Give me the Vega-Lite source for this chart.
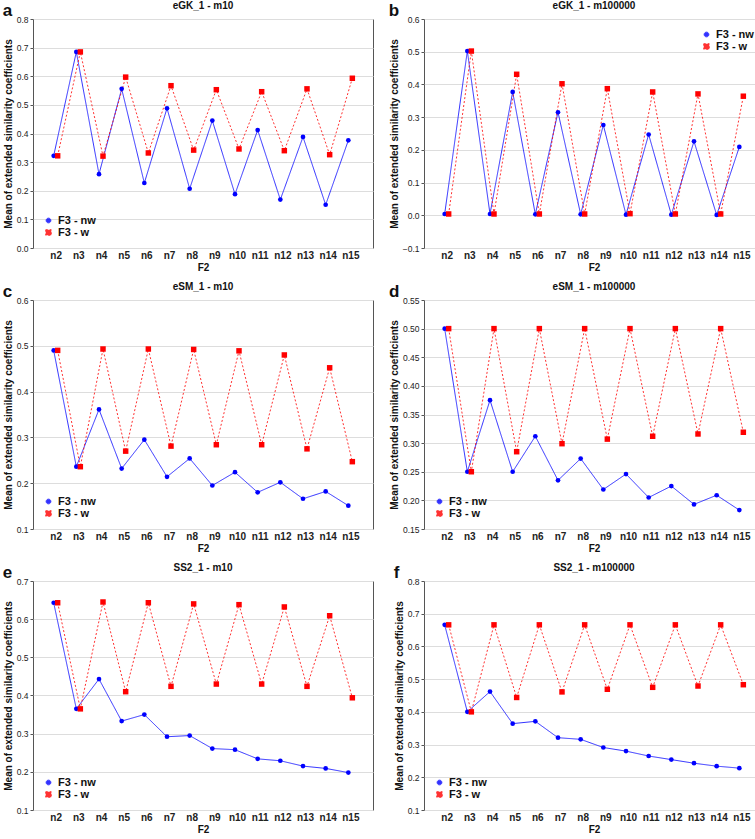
{
  "$schema": "https://vega.github.io/schema/vega-lite/v6.json",
  "padding": {"left": 2, "top": 0, "right": 0, "bottom": 0},
  "background": "white",
  "datasets": {
    "d": [
      {"panel":"a","F2":"n2","F3":"F3 - nw","value":0.322},{"panel":"a","F2":"n3","F3":"F3 - nw","value":0.685},{"panel":"a","F2":"n4","F3":"F3 - nw","value":0.258},{"panel":"a","F2":"n5","F3":"F3 - nw","value":0.556},{"panel":"a","F2":"n6","F3":"F3 - nw","value":0.227},{"panel":"a","F2":"n7","F3":"F3 - nw","value":0.488},{"panel":"a","F2":"n8","F3":"F3 - nw","value":0.207},{"panel":"a","F2":"n9","F3":"F3 - nw","value":0.445},{"panel":"a","F2":"n10","F3":"F3 - nw","value":0.188},{"panel":"a","F2":"n11","F3":"F3 - nw","value":0.412},{"panel":"a","F2":"n12","F3":"F3 - nw","value":0.169},{"panel":"a","F2":"n13","F3":"F3 - nw","value":0.388},{"panel":"a","F2":"n14","F3":"F3 - nw","value":0.151},{"panel":"a","F2":"n15","F3":"F3 - nw","value":0.376},
      {"panel":"a","F2":"n2","F3":"F3 - w","value":0.322},{"panel":"a","F2":"n3","F3":"F3 - w","value":0.685},{"panel":"a","F2":"n4","F3":"F3 - w","value":0.321},{"panel":"a","F2":"n5","F3":"F3 - w","value":0.597},{"panel":"a","F2":"n6","F3":"F3 - w","value":0.332},{"panel":"a","F2":"n7","F3":"F3 - w","value":0.567},{"panel":"a","F2":"n8","F3":"F3 - w","value":0.342},{"panel":"a","F2":"n9","F3":"F3 - w","value":0.553},{"panel":"a","F2":"n10","F3":"F3 - w","value":0.346},{"panel":"a","F2":"n11","F3":"F3 - w","value":0.546},{"panel":"a","F2":"n12","F3":"F3 - w","value":0.340},{"panel":"a","F2":"n13","F3":"F3 - w","value":0.556},{"panel":"a","F2":"n14","F3":"F3 - w","value":0.326},{"panel":"a","F2":"n15","F3":"F3 - w","value":0.593},
      {"panel":"b","F2":"n2","F3":"F3 - nw","value":0.004},{"panel":"b","F2":"n3","F3":"F3 - nw","value":0.502},{"panel":"b","F2":"n4","F3":"F3 - nw","value":0.004},{"panel":"b","F2":"n5","F3":"F3 - nw","value":0.377},{"panel":"b","F2":"n6","F3":"F3 - nw","value":0.003},{"panel":"b","F2":"n7","F3":"F3 - nw","value":0.315},{"panel":"b","F2":"n8","F3":"F3 - nw","value":0.003},{"panel":"b","F2":"n9","F3":"F3 - nw","value":0.276},{"panel":"b","F2":"n10","F3":"F3 - nw","value":0.002},{"panel":"b","F2":"n11","F3":"F3 - nw","value":0.247},{"panel":"b","F2":"n12","F3":"F3 - nw","value":0.002},{"panel":"b","F2":"n13","F3":"F3 - nw","value":0.226},{"panel":"b","F2":"n14","F3":"F3 - nw","value":0.001},{"panel":"b","F2":"n15","F3":"F3 - nw","value":0.209},
      {"panel":"b","F2":"n2","F3":"F3 - w","value":0.004},{"panel":"b","F2":"n3","F3":"F3 - w","value":0.502},{"panel":"b","F2":"n4","F3":"F3 - w","value":0.004},{"panel":"b","F2":"n5","F3":"F3 - w","value":0.431},{"panel":"b","F2":"n6","F3":"F3 - w","value":0.004},{"panel":"b","F2":"n7","F3":"F3 - w","value":0.402},{"panel":"b","F2":"n8","F3":"F3 - w","value":0.004},{"panel":"b","F2":"n9","F3":"F3 - w","value":0.387},{"panel":"b","F2":"n10","F3":"F3 - w","value":0.005},{"panel":"b","F2":"n11","F3":"F3 - w","value":0.377},{"panel":"b","F2":"n12","F3":"F3 - w","value":0.004},{"panel":"b","F2":"n13","F3":"F3 - w","value":0.371},{"panel":"b","F2":"n14","F3":"F3 - w","value":0.004},{"panel":"b","F2":"n15","F3":"F3 - w","value":0.364},
      {"panel":"c","F2":"n2","F3":"F3 - nw","value":0.490},{"panel":"c","F2":"n3","F3":"F3 - nw","value":0.236},{"panel":"c","F2":"n4","F3":"F3 - nw","value":0.361},{"panel":"c","F2":"n5","F3":"F3 - nw","value":0.232},{"panel":"c","F2":"n6","F3":"F3 - nw","value":0.295},{"panel":"c","F2":"n7","F3":"F3 - nw","value":0.214},{"panel":"c","F2":"n8","F3":"F3 - nw","value":0.254},{"panel":"c","F2":"n9","F3":"F3 - nw","value":0.195},{"panel":"c","F2":"n10","F3":"F3 - nw","value":0.224},{"panel":"c","F2":"n11","F3":"F3 - nw","value":0.180},{"panel":"c","F2":"n12","F3":"F3 - nw","value":0.202},{"panel":"c","F2":"n13","F3":"F3 - nw","value":0.166},{"panel":"c","F2":"n14","F3":"F3 - nw","value":0.182},{"panel":"c","F2":"n15","F3":"F3 - nw","value":0.151},
      {"panel":"c","F2":"n2","F3":"F3 - w","value":0.490},{"panel":"c","F2":"n3","F3":"F3 - w","value":0.236},{"panel":"c","F2":"n4","F3":"F3 - w","value":0.493},{"panel":"c","F2":"n5","F3":"F3 - w","value":0.270},{"panel":"c","F2":"n6","F3":"F3 - w","value":0.493},{"panel":"c","F2":"n7","F3":"F3 - w","value":0.281},{"panel":"c","F2":"n8","F3":"F3 - w","value":0.492},{"panel":"c","F2":"n9","F3":"F3 - w","value":0.284},{"panel":"c","F2":"n10","F3":"F3 - w","value":0.489},{"panel":"c","F2":"n11","F3":"F3 - w","value":0.284},{"panel":"c","F2":"n12","F3":"F3 - w","value":0.480},{"panel":"c","F2":"n13","F3":"F3 - w","value":0.275},{"panel":"c","F2":"n14","F3":"F3 - w","value":0.452},{"panel":"c","F2":"n15","F3":"F3 - w","value":0.247},
      {"panel":"d","F2":"n2","F3":"F3 - nw","value":0.500},{"panel":"d","F2":"n3","F3":"F3 - nw","value":0.250},{"panel":"d","F2":"n4","F3":"F3 - nw","value":0.375},{"panel":"d","F2":"n5","F3":"F3 - nw","value":0.250},{"panel":"d","F2":"n6","F3":"F3 - nw","value":0.312},{"panel":"d","F2":"n7","F3":"F3 - nw","value":0.235},{"panel":"d","F2":"n8","F3":"F3 - nw","value":0.273},{"panel":"d","F2":"n9","F3":"F3 - nw","value":0.219},{"panel":"d","F2":"n10","F3":"F3 - nw","value":0.246},{"panel":"d","F2":"n11","F3":"F3 - nw","value":0.205},{"panel":"d","F2":"n12","F3":"F3 - nw","value":0.225},{"panel":"d","F2":"n13","F3":"F3 - nw","value":0.193},{"panel":"d","F2":"n14","F3":"F3 - nw","value":0.209},{"panel":"d","F2":"n15","F3":"F3 - nw","value":0.183},
      {"panel":"d","F2":"n2","F3":"F3 - w","value":0.500},{"panel":"d","F2":"n3","F3":"F3 - w","value":0.250},{"panel":"d","F2":"n4","F3":"F3 - w","value":0.500},{"panel":"d","F2":"n5","F3":"F3 - w","value":0.285},{"panel":"d","F2":"n6","F3":"F3 - w","value":0.500},{"panel":"d","F2":"n7","F3":"F3 - w","value":0.299},{"panel":"d","F2":"n8","F3":"F3 - w","value":0.500},{"panel":"d","F2":"n9","F3":"F3 - w","value":0.307},{"panel":"d","F2":"n10","F3":"F3 - w","value":0.500},{"panel":"d","F2":"n11","F3":"F3 - w","value":0.312},{"panel":"d","F2":"n12","F3":"F3 - w","value":0.500},{"panel":"d","F2":"n13","F3":"F3 - w","value":0.316},{"panel":"d","F2":"n14","F3":"F3 - w","value":0.500},{"panel":"d","F2":"n15","F3":"F3 - w","value":0.319},
      {"panel":"e","F2":"n2","F3":"F3 - nw","value":0.643},{"panel":"e","F2":"n3","F3":"F3 - nw","value":0.365},{"panel":"e","F2":"n4","F3":"F3 - nw","value":0.443},{"panel":"e","F2":"n5","F3":"F3 - nw","value":0.333},{"panel":"e","F2":"n6","F3":"F3 - nw","value":0.350},{"panel":"e","F2":"n7","F3":"F3 - nw","value":0.292},{"panel":"e","F2":"n8","F3":"F3 - nw","value":0.295},{"panel":"e","F2":"n9","F3":"F3 - nw","value":0.261},{"panel":"e","F2":"n10","F3":"F3 - nw","value":0.258},{"panel":"e","F2":"n11","F3":"F3 - nw","value":0.234},{"panel":"e","F2":"n12","F3":"F3 - nw","value":0.229},{"panel":"e","F2":"n13","F3":"F3 - nw","value":0.215},{"panel":"e","F2":"n14","F3":"F3 - nw","value":0.209},{"panel":"e","F2":"n15","F3":"F3 - nw","value":0.198},
      {"panel":"e","F2":"n2","F3":"F3 - w","value":0.643},{"panel":"e","F2":"n3","F3":"F3 - w","value":0.365},{"panel":"e","F2":"n4","F3":"F3 - w","value":0.645},{"panel":"e","F2":"n5","F3":"F3 - w","value":0.410},{"panel":"e","F2":"n6","F3":"F3 - w","value":0.643},{"panel":"e","F2":"n7","F3":"F3 - w","value":0.424},{"panel":"e","F2":"n8","F3":"F3 - w","value":0.640},{"panel":"e","F2":"n9","F3":"F3 - w","value":0.430},{"panel":"e","F2":"n10","F3":"F3 - w","value":0.638},{"panel":"e","F2":"n11","F3":"F3 - w","value":0.430},{"panel":"e","F2":"n12","F3":"F3 - w","value":0.632},{"panel":"e","F2":"n13","F3":"F3 - w","value":0.424},{"panel":"e","F2":"n14","F3":"F3 - w","value":0.609},{"panel":"e","F2":"n15","F3":"F3 - w","value":0.394},
      {"panel":"f","F2":"n2","F3":"F3 - nw","value":0.666},{"panel":"f","F2":"n3","F3":"F3 - nw","value":0.400},{"panel":"f","F2":"n4","F3":"F3 - nw","value":0.462},{"panel":"f","F2":"n5","F3":"F3 - nw","value":0.364},{"panel":"f","F2":"n6","F3":"F3 - nw","value":0.371},{"panel":"f","F2":"n7","F3":"F3 - nw","value":0.321},{"panel":"f","F2":"n8","F3":"F3 - nw","value":0.316},{"panel":"f","F2":"n9","F3":"F3 - nw","value":0.291},{"panel":"f","F2":"n10","F3":"F3 - nw","value":0.280},{"panel":"f","F2":"n11","F3":"F3 - nw","value":0.265},{"panel":"f","F2":"n12","F3":"F3 - nw","value":0.254},{"panel":"f","F2":"n13","F3":"F3 - nw","value":0.243},{"panel":"f","F2":"n14","F3":"F3 - nw","value":0.234},{"panel":"f","F2":"n15","F3":"F3 - nw","value":0.228},
      {"panel":"f","F2":"n2","F3":"F3 - w","value":0.666},{"panel":"f","F2":"n3","F3":"F3 - w","value":0.400},{"panel":"f","F2":"n4","F3":"F3 - w","value":0.666},{"panel":"f","F2":"n5","F3":"F3 - w","value":0.444},{"panel":"f","F2":"n6","F3":"F3 - w","value":0.666},{"panel":"f","F2":"n7","F3":"F3 - w","value":0.461},{"panel":"f","F2":"n8","F3":"F3 - w","value":0.666},{"panel":"f","F2":"n9","F3":"F3 - w","value":0.469},{"panel":"f","F2":"n10","F3":"F3 - w","value":0.666},{"panel":"f","F2":"n11","F3":"F3 - w","value":0.475},{"panel":"f","F2":"n12","F3":"F3 - w","value":0.666},{"panel":"f","F2":"n13","F3":"F3 - w","value":0.479},{"panel":"f","F2":"n14","F3":"F3 - w","value":0.666},{"panel":"f","F2":"n15","F3":"F3 - w","value":0.483}
    ]
  },
  "data": {"name": "d"},
  "columns": 2,
  "spacing": {"row": 8, "column": 14},
  "concat": [
    {
      "title": {"text": "a", "dy": 23, "fontSize": 17},
      "resolve": {"scale": {"color": "independent", "strokeDash": "independent", "shape": "independent", "size": "independent"}, "legend": {"color": "independent", "strokeDash": "independent", "shape": "independent"}},
      "vconcat": [{
        "width": 340, "height": 229,
        "title": "eGK_1 - m10",
        "transform": [{"filter": "datum.panel === 'a'"}],
        "encoding": {
          "x": {"field": "F2", "type": "ordinal", "sort": null, "scale": {"type": "point", "padding": 1}, "title": "F2"},
          "y": {"field": "value", "type": "quantitative", "scale": {"domain": [0, 0.8], "nice": false, "zero": false}, "axis": {"values": [0, 0.1, 0.2, 0.3, 0.4, 0.5, 0.6, 0.7, 0.8], "format": ".1f"}, "title": "Mean of extended similarity coefficients"},
          "color": {"field": "F3", "type": "nominal", "scale": {"domain": ["F3 - nw", "F3 - w"], "range": ["#0000ff", "#ff0000"]}, "title": null, "legend": {"orient": "bottom-left"}}
        },
        "layer": [
          {"mark": {"type": "line", "strokeWidth": 1, "opacity": 0.8, "xOffset": {"expr": "datum.F3 === 'F3 - w' ? 2 : -2"}}, "encoding": {"strokeDash": {"field": "F3", "type": "nominal", "scale": {"domain": ["F3 - nw", "F3 - w"], "range": [[1, 0], [2, 2]]}, "title": null, "legend": {"orient": "bottom-left"}}}},
          {"mark": {"type": "point", "filled": true, "opacity": 1, "xOffset": {"expr": "datum.F3 === 'F3 - w' ? 2 : -2"}}, "encoding": {"shape": {"field": "F3", "type": "nominal", "scale": {"domain": ["F3 - nw", "F3 - w"], "range": ["circle", "square"]}, "title": null, "legend": {"orient": "bottom-left"}}, "size": {"field": "F3", "type": "nominal", "scale": {"domain": ["F3 - nw", "F3 - w"], "range": [22, 30]}, "legend": null}}}
        ]
      }]
    },
    {
      "title": {"text": "b", "dy": 23, "fontSize": 17},
      "resolve": {"scale": {"color": "independent", "strokeDash": "independent", "shape": "independent", "size": "independent"}, "legend": {"color": "independent", "strokeDash": "independent", "shape": "independent"}},
      "vconcat": [{
        "width": 340, "height": 229,
        "title": "eGK_1 - m100000",
        "transform": [{"filter": "datum.panel === 'b'"}],
        "encoding": {
          "x": {"field": "F2", "type": "ordinal", "sort": null, "scale": {"type": "point", "padding": 1}, "title": "F2"},
          "y": {"field": "value", "type": "quantitative", "scale": {"domain": [-0.1, 0.6], "nice": false, "zero": false}, "axis": {"values": [-0.1, 0, 0.1, 0.2, 0.3, 0.4, 0.5, 0.6], "format": ".1f"}, "title": "Mean of extended similarity coefficients"},
          "color": {"field": "F3", "type": "nominal", "scale": {"domain": ["F3 - nw", "F3 - w"], "range": ["#0000ff", "#ff0000"]}, "title": null, "legend": {"orient": "top-right"}}
        },
        "layer": [
          {"mark": {"type": "line", "strokeWidth": 1, "opacity": 0.8, "xOffset": {"expr": "datum.F3 === 'F3 - w' ? 2 : -2"}}, "encoding": {"strokeDash": {"field": "F3", "type": "nominal", "scale": {"domain": ["F3 - nw", "F3 - w"], "range": [[1, 0], [2, 2]]}, "title": null, "legend": {"orient": "top-right"}}}},
          {"mark": {"type": "point", "filled": true, "opacity": 1, "xOffset": {"expr": "datum.F3 === 'F3 - w' ? 2 : -2"}}, "encoding": {"shape": {"field": "F3", "type": "nominal", "scale": {"domain": ["F3 - nw", "F3 - w"], "range": ["circle", "square"]}, "title": null, "legend": {"orient": "top-right"}}, "size": {"field": "F3", "type": "nominal", "scale": {"domain": ["F3 - nw", "F3 - w"], "range": [22, 30]}, "legend": null}}}
        ]
      }]
    },
    {
      "title": {"text": "c", "dy": 23, "fontSize": 17},
      "resolve": {"scale": {"color": "independent", "strokeDash": "independent", "shape": "independent", "size": "independent"}, "legend": {"color": "independent", "strokeDash": "independent", "shape": "independent"}},
      "vconcat": [{
        "width": 340, "height": 229,
        "title": "eSM_1 - m10",
        "transform": [{"filter": "datum.panel === 'c'"}],
        "encoding": {
          "x": {"field": "F2", "type": "ordinal", "sort": null, "scale": {"type": "point", "padding": 1}, "title": "F2"},
          "y": {"field": "value", "type": "quantitative", "scale": {"domain": [0.1, 0.6], "nice": false, "zero": false}, "axis": {"values": [0.1, 0.2, 0.3, 0.4, 0.5, 0.6], "format": ".1f"}, "title": "Mean of extended similarity coefficients"},
          "color": {"field": "F3", "type": "nominal", "scale": {"domain": ["F3 - nw", "F3 - w"], "range": ["#0000ff", "#ff0000"]}, "title": null, "legend": {"orient": "bottom-left"}}
        },
        "layer": [
          {"mark": {"type": "line", "strokeWidth": 1, "opacity": 0.8, "xOffset": {"expr": "datum.F3 === 'F3 - w' ? 2 : -2"}}, "encoding": {"strokeDash": {"field": "F3", "type": "nominal", "scale": {"domain": ["F3 - nw", "F3 - w"], "range": [[1, 0], [2, 2]]}, "title": null, "legend": {"orient": "bottom-left"}}}},
          {"mark": {"type": "point", "filled": true, "opacity": 1, "xOffset": {"expr": "datum.F3 === 'F3 - w' ? 2 : -2"}}, "encoding": {"shape": {"field": "F3", "type": "nominal", "scale": {"domain": ["F3 - nw", "F3 - w"], "range": ["circle", "square"]}, "title": null, "legend": {"orient": "bottom-left"}}, "size": {"field": "F3", "type": "nominal", "scale": {"domain": ["F3 - nw", "F3 - w"], "range": [22, 30]}, "legend": null}}}
        ]
      }]
    },
    {
      "title": {"text": "d", "dy": 23, "fontSize": 17},
      "resolve": {"scale": {"color": "independent", "strokeDash": "independent", "shape": "independent", "size": "independent"}, "legend": {"color": "independent", "strokeDash": "independent", "shape": "independent"}},
      "vconcat": [{
        "width": 340, "height": 229,
        "title": "eSM_1 - m100000",
        "transform": [{"filter": "datum.panel === 'd'"}],
        "encoding": {
          "x": {"field": "F2", "type": "ordinal", "sort": null, "scale": {"type": "point", "padding": 1}, "title": "F2"},
          "y": {"field": "value", "type": "quantitative", "scale": {"domain": [0.15, 0.55], "nice": false, "zero": false}, "axis": {"values": [0.15, 0.2, 0.25, 0.3, 0.35, 0.4, 0.45, 0.5, 0.55], "format": ".2f"}, "title": "Mean of extended similarity coefficients"},
          "color": {"field": "F3", "type": "nominal", "scale": {"domain": ["F3 - nw", "F3 - w"], "range": ["#0000ff", "#ff0000"]}, "title": null, "legend": {"orient": "bottom-left"}}
        },
        "layer": [
          {"mark": {"type": "line", "strokeWidth": 1, "opacity": 0.8, "xOffset": {"expr": "datum.F3 === 'F3 - w' ? 2 : -2"}}, "encoding": {"strokeDash": {"field": "F3", "type": "nominal", "scale": {"domain": ["F3 - nw", "F3 - w"], "range": [[1, 0], [2, 2]]}, "title": null, "legend": {"orient": "bottom-left"}}}},
          {"mark": {"type": "point", "filled": true, "opacity": 1, "xOffset": {"expr": "datum.F3 === 'F3 - w' ? 2 : -2"}}, "encoding": {"shape": {"field": "F3", "type": "nominal", "scale": {"domain": ["F3 - nw", "F3 - w"], "range": ["circle", "square"]}, "title": null, "legend": {"orient": "bottom-left"}}, "size": {"field": "F3", "type": "nominal", "scale": {"domain": ["F3 - nw", "F3 - w"], "range": [22, 30]}, "legend": null}}}
        ]
      }]
    },
    {
      "title": {"text": "e", "dy": 23, "fontSize": 17},
      "resolve": {"scale": {"color": "independent", "strokeDash": "independent", "shape": "independent", "size": "independent"}, "legend": {"color": "independent", "strokeDash": "independent", "shape": "independent"}},
      "vconcat": [{
        "width": 340, "height": 229,
        "title": "SS2_1 - m10",
        "transform": [{"filter": "datum.panel === 'e'"}],
        "encoding": {
          "x": {"field": "F2", "type": "ordinal", "sort": null, "scale": {"type": "point", "padding": 1}, "title": "F2"},
          "y": {"field": "value", "type": "quantitative", "scale": {"domain": [0.1, 0.7], "nice": false, "zero": false}, "axis": {"values": [0.1, 0.2, 0.3, 0.4, 0.5, 0.6, 0.7], "format": ".1f"}, "title": "Mean of extended similarity coefficients"},
          "color": {"field": "F3", "type": "nominal", "scale": {"domain": ["F3 - nw", "F3 - w"], "range": ["#0000ff", "#ff0000"]}, "title": null, "legend": {"orient": "bottom-left"}}
        },
        "layer": [
          {"mark": {"type": "line", "strokeWidth": 1, "opacity": 0.8, "xOffset": {"expr": "datum.F3 === 'F3 - w' ? 2 : -2"}}, "encoding": {"strokeDash": {"field": "F3", "type": "nominal", "scale": {"domain": ["F3 - nw", "F3 - w"], "range": [[1, 0], [2, 2]]}, "title": null, "legend": {"orient": "bottom-left"}}}},
          {"mark": {"type": "point", "filled": true, "opacity": 1, "xOffset": {"expr": "datum.F3 === 'F3 - w' ? 2 : -2"}}, "encoding": {"shape": {"field": "F3", "type": "nominal", "scale": {"domain": ["F3 - nw", "F3 - w"], "range": ["circle", "square"]}, "title": null, "legend": {"orient": "bottom-left"}}, "size": {"field": "F3", "type": "nominal", "scale": {"domain": ["F3 - nw", "F3 - w"], "range": [22, 30]}, "legend": null}}}
        ]
      }]
    },
    {
      "title": {"text": "f", "dy": 23, "fontSize": 17},
      "resolve": {"scale": {"color": "independent", "strokeDash": "independent", "shape": "independent", "size": "independent"}, "legend": {"color": "independent", "strokeDash": "independent", "shape": "independent"}},
      "vconcat": [{
        "width": 340, "height": 229,
        "title": "SS2_1 - m100000",
        "transform": [{"filter": "datum.panel === 'f'"}],
        "encoding": {
          "x": {"field": "F2", "type": "ordinal", "sort": null, "scale": {"type": "point", "padding": 1}, "title": "F2"},
          "y": {"field": "value", "type": "quantitative", "scale": {"domain": [0.1, 0.8], "nice": false, "zero": false}, "axis": {"values": [0.1, 0.2, 0.3, 0.4, 0.5, 0.6, 0.7, 0.8], "format": ".1f"}, "title": "Mean of extended similarity coefficients"},
          "color": {"field": "F3", "type": "nominal", "scale": {"domain": ["F3 - nw", "F3 - w"], "range": ["#0000ff", "#ff0000"]}, "title": null, "legend": {"orient": "bottom-left"}}
        },
        "layer": [
          {"mark": {"type": "line", "strokeWidth": 1, "opacity": 0.8, "xOffset": {"expr": "datum.F3 === 'F3 - w' ? 2 : -2"}}, "encoding": {"strokeDash": {"field": "F3", "type": "nominal", "scale": {"domain": ["F3 - nw", "F3 - w"], "range": [[1, 0], [2, 2]]}, "title": null, "legend": {"orient": "bottom-left"}}}},
          {"mark": {"type": "point", "filled": true, "opacity": 1, "xOffset": {"expr": "datum.F3 === 'F3 - w' ? 2 : -2"}}, "encoding": {"shape": {"field": "F3", "type": "nominal", "scale": {"domain": ["F3 - nw", "F3 - w"], "range": ["circle", "square"]}, "title": null, "legend": {"orient": "bottom-left"}}, "size": {"field": "F3", "type": "nominal", "scale": {"domain": ["F3 - nw", "F3 - w"], "range": [22, 30]}, "legend": null}}}
        ]
      }]
    }
  ],
  "resolve": {"scale": {"color": "independent", "strokeDash": "independent", "shape": "independent", "size": "independent"}, "legend": {"color": "independent", "strokeDash": "independent", "shape": "independent"}},
  "config": {
    "font": "Liberation Sans",
    "view": {"stroke": "#555555", "strokeWidth": 1},
    "axis": {"labelFont": "Liberation Sans", "titleFont": "Liberation Sans", "gridColor": "#dddddd", "gridWidth": 1, "domain": false, "tickColor": "#555555", "tickSize": 3, "labelColor": "#222222", "titleColor": "#111111", "titleFontWeight": "bold", "titleFontSize": 10},
    "axisX": {"labelFontWeight": "bold", "labelFontSize": 10, "labelAngle": 0, "ticks": false, "labelPadding": 2, "titlePadding": 2},
    "axisY": {"labelFontSize": 8.5, "labelFontWeight": "normal", "titlePadding": 3, "labelPadding": 2},
    "legend": {"labelFontSize": 11, "labelFontWeight": "bold", "labelColor": "#111111", "symbolSize": 40, "rowPadding": 0, "offset": 10, "padding": 0, "symbolStrokeWidth": 1},
    "title": {"fontSize": 10, "fontWeight": "bold", "offset": 4, "color": "#111111"},
    "concat": {"spacing": 4}
  }
}
